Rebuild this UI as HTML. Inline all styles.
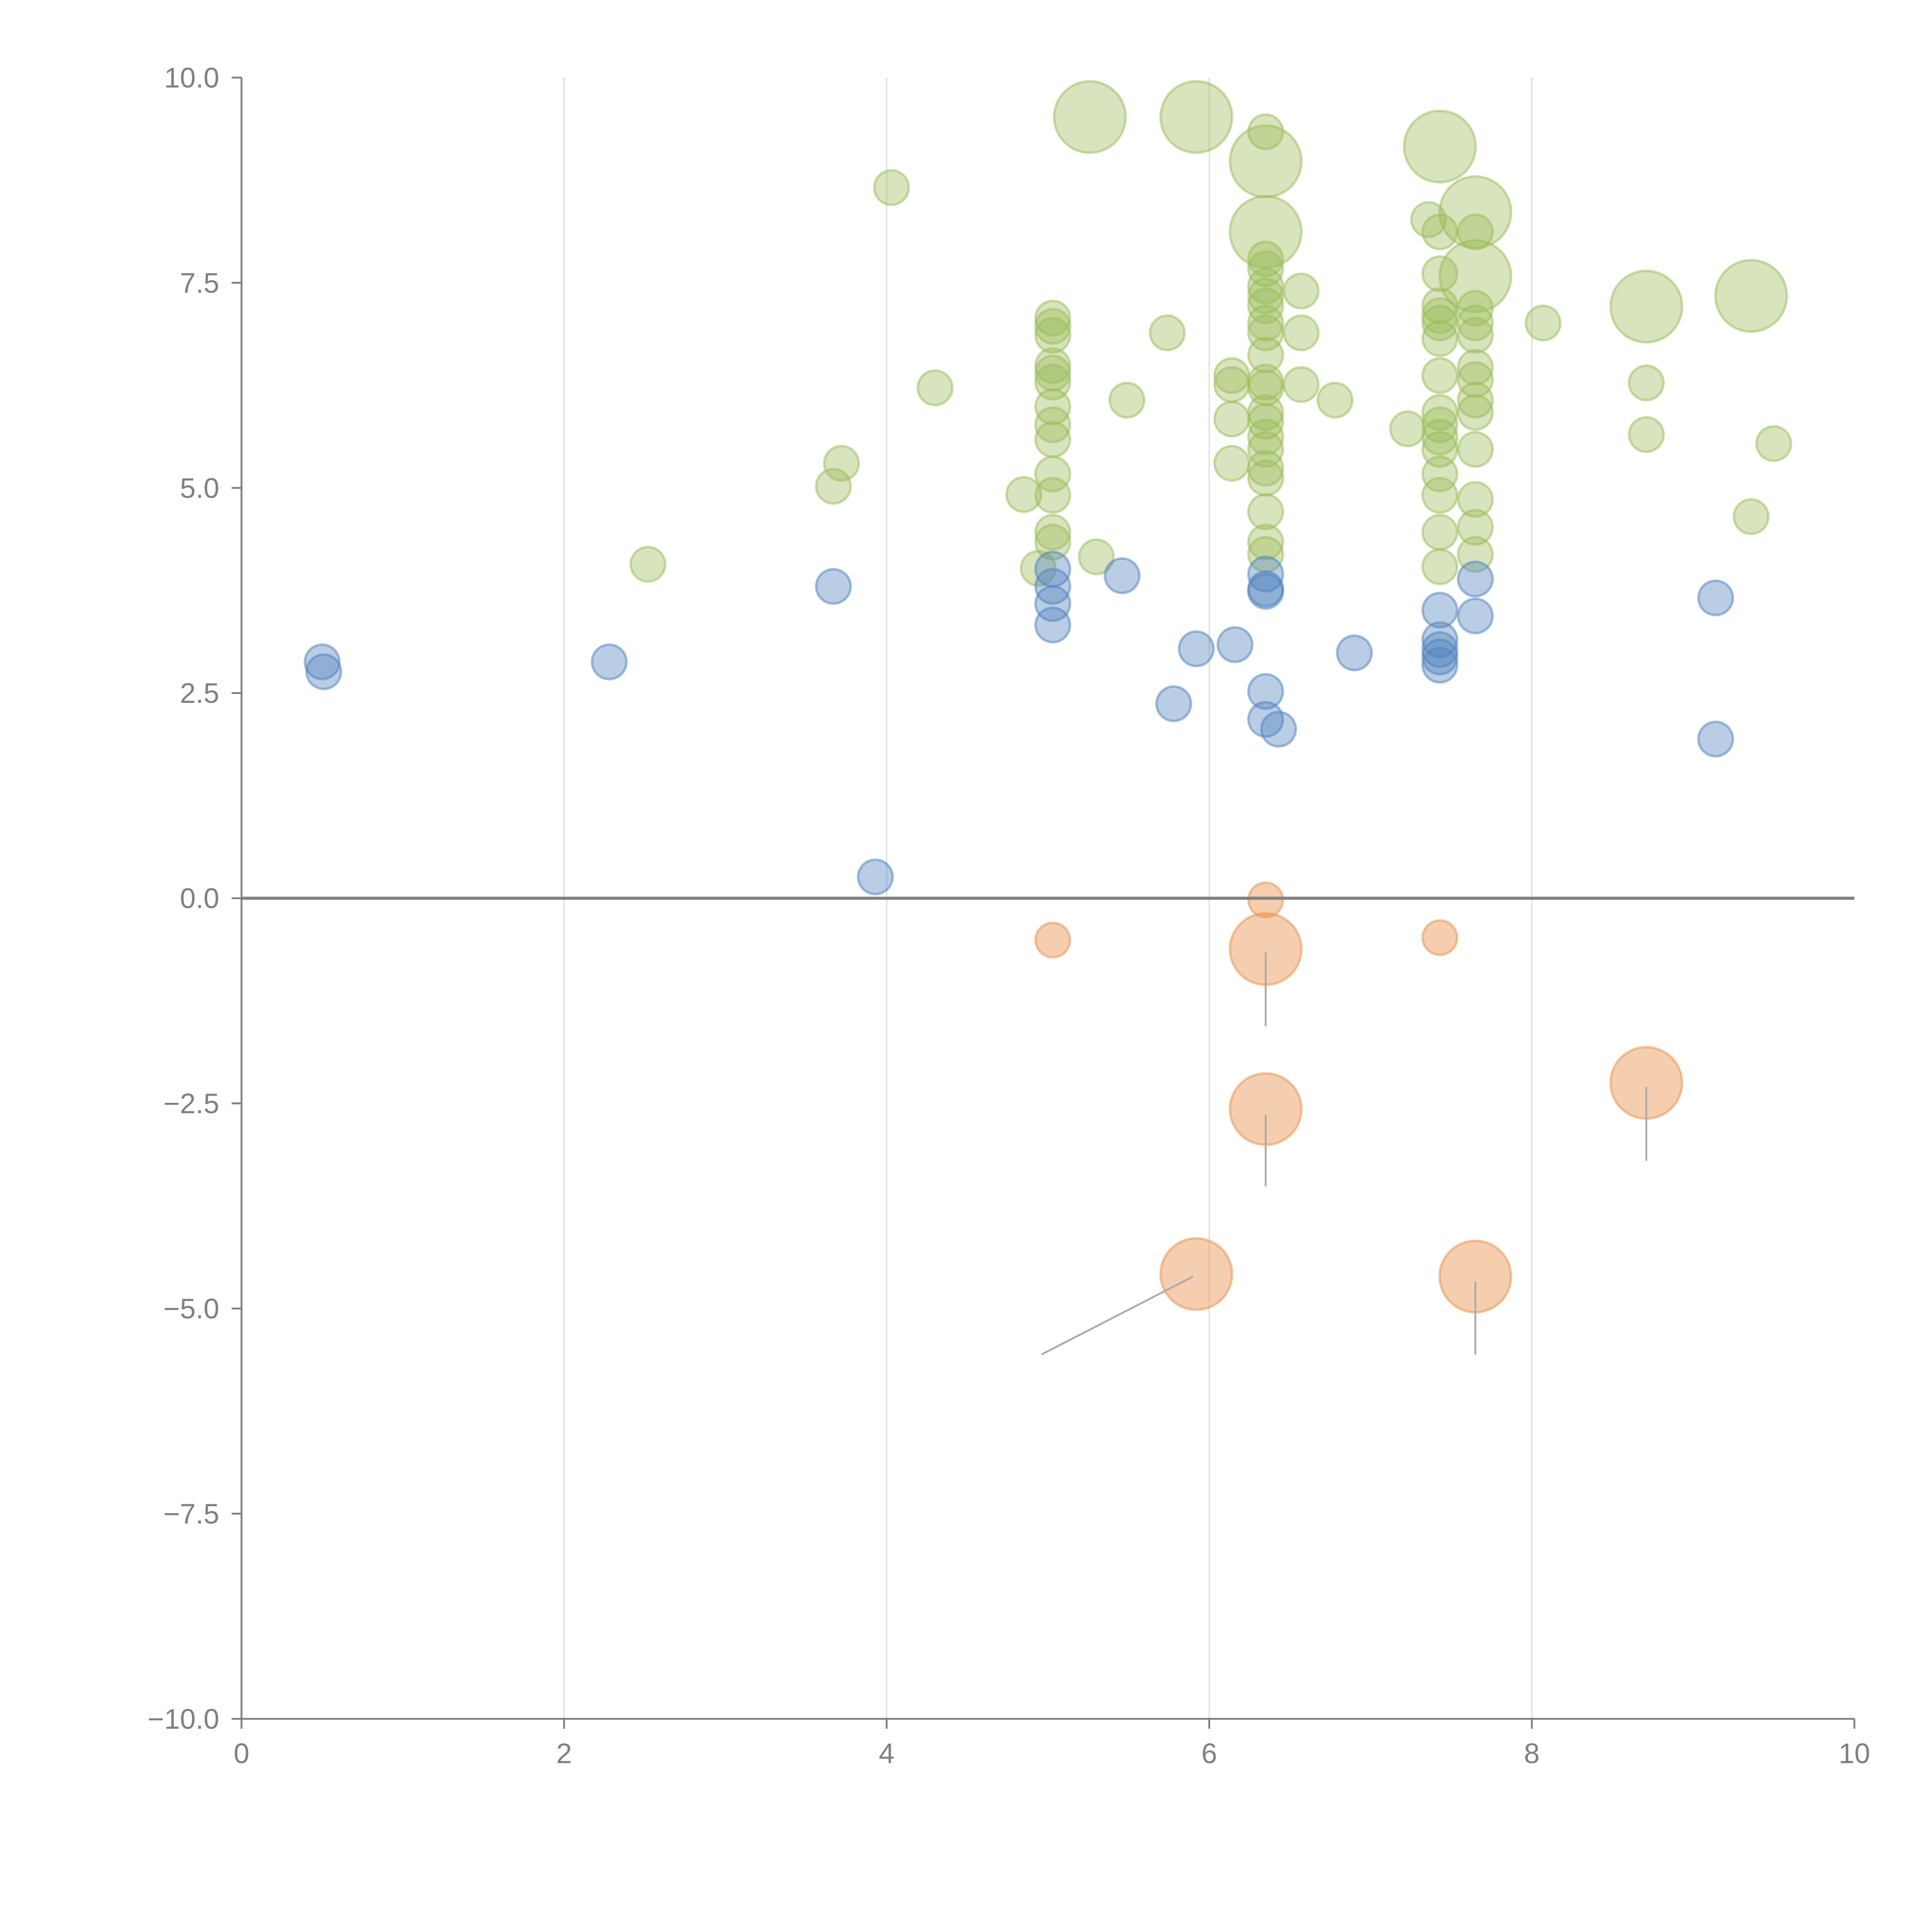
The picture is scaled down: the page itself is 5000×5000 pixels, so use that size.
<!DOCTYPE html>
<html><head><meta charset="utf-8"><style>html,body{margin:0;padding:0;background:#fff}svg{display:block}</style></head>
<body>
<svg id="chart" width="5000" height="5000" viewBox="0 0 1568 1568" xmlns="http://www.w3.org/2000/svg" font-family="Liberation Sans, sans-serif"></svg>
<script>
const xTicks=[0,2,4,6,8,10];
const xTickLabels=["0","2","4","6","8","10"];
const yTicks=[10,7.5,5,2.5,0,-2.5,-5,-7.5,-10];
const yTickLabels=["10.0","7.5","5.0","2.5","0.0","\u22122.5","\u22125.0","\u22127.5","\u221210.0"];
const blueX=[0.50,0.51,2.28,3.67,3.93,5.03,5.03,5.03,5.03,5.46,5.78,5.92,6.16,6.35,6.35,6.43,6.35,6.35,6.35,6.90,7.43,7.43,7.43,7.43,7.43,7.65,7.65,9.14,9.14];
const blueY=[2.88,2.76,2.88,3.80,0.26,4.01,3.80,3.59,3.33,3.93,2.37,3.04,3.09,2.52,2.18,2.06,3.74,3.95,3.77,2.99,3.51,3.15,3.03,2.94,2.84,3.89,3.44,3.66,1.94];
const orangeX=[5.03,6.35,7.43,6.35,6.35,5.92,7.65,8.71];
const orangeY=[-0.51,-0.02,-0.48,-0.62,-2.57,-4.58,-4.61,-2.25];
const orangeSize=[1,1,1,2,2,2,2,2];
const greenX=[5.26,5.92,6.35,6.35,7.43,7.65,7.65,8.71,9.36,
6.35,4.03,2.52,3.67,3.72,4.30,4.85,4.94,5.30,5.49,5.74,
5.03,5.03,5.03,5.03,5.03,5.03,5.03,5.03,5.03,5.03,5.03,5.03,5.03,
6.14,6.14,6.14,6.14,
6.35,6.35,6.35,6.35,6.35,6.35,6.35,6.35,6.35,6.35,6.35,6.35,6.35,6.35,6.35,6.35,6.35,6.35,6.35,
6.57,6.57,6.57,6.78,7.23,7.36,
7.43,7.43,7.43,7.43,7.43,7.43,7.43,7.43,7.43,7.43,7.43,7.43,7.43,7.43,7.43,
7.65,7.65,7.65,7.65,7.65,7.65,7.65,7.65,7.65,7.65,7.65,7.65,
8.07,8.71,8.71,9.36,9.50];
const greenY=[9.52,9.52,8.98,8.12,9.16,8.36,7.58,7.21,7.34,
9.34,8.66,4.07,5.02,5.30,6.22,4.92,4.02,4.16,6.07,6.89,
7.07,6.97,6.86,6.49,6.40,6.29,5.99,5.77,5.59,5.17,4.91,4.46,4.34,
6.37,6.26,5.84,5.30,
7.79,7.67,7.46,7.34,7.22,7.01,6.89,6.62,6.29,6.22,5.92,5.81,5.62,5.47,5.24,5.12,4.71,4.34,4.19,
7.40,6.89,6.26,6.07,5.72,8.27,
8.12,7.61,7.22,7.10,7.01,6.82,6.37,5.92,5.77,5.62,5.47,5.17,4.91,4.46,4.04,
8.12,7.19,7.01,6.86,6.47,6.32,6.07,5.92,5.47,4.86,4.52,4.19,
7.01,6.28,5.65,4.65,5.54];
const greenSize=[2,2,2,2,2,2,2,2,2];

const NS="http://www.w3.org/2000/svg";
const svg=document.getElementById('chart');
const X0=196,X1=1505,YT=63,YB=1395;
const sx=v=>X0+(v-0)/(10-0)*(X1-X0);
const sy=v=>YB-(v+10)/20*(YB-YT);
const rad=s=>s===2?29:14;
function mk(tag,attrs,parent){const e=document.createElementNS(NS,tag);for(const k in attrs)e.setAttribute(k,attrs[k]);(parent||svg).appendChild(e);return e;}

const grid=mk('g',{});


xTicks.forEach(t=>{if(t===0||t===10)return;const l=mk('line',{x1:sx(t),x2:sx(t),y1:YT,y2:YB,stroke:'#dcdcdc','stroke-width':1},grid);

});

function series(xs,ys,sizes,fill,op,name){
  const g=mk('g',{});
  
  
  xs.forEach((x,i)=>{const s=sizes[i]!==undefined?sizes[i]:1;
    const c=mk('circle',{cx:sx(x),cy:sy(ys[i]),r:rad(s),fill:fill,'fill-opacity':op,stroke:fill,'stroke-opacity':0.5,'stroke-width':2},g);
    
    });
}
series(greenX,greenY,greenSize,'#9bbb59',0.4,'green');
series(blueX,blueY,[],'#4f81bd',0.4,'blue');
series(orangeX,orangeY,orangeSize,'#e8924e',0.45,'orange');

const leaders=[[6.35,-0.66,6.35,-1.56],[6.35,-2.64,6.35,-3.51],[5.90,-4.61,4.96,-5.56],[7.65,-4.67,7.65,-5.56],[8.71,-2.30,8.71,-3.20]];
leaders.forEach(a=>{const l=mk('line',{x1:sx(a[0]),y1:sy(a[1]),x2:sx(a[2]),y2:sy(a[3]),stroke:'#aaaaaa','stroke-width':1.5});

});

const z=mk('line',{x1:X0,x2:X1,y1:sy(0),y2:sy(0),stroke:'#808080','stroke-width':2.5});



const ya=mk('line',{x1:X0,x2:X0,y1:YT,y2:YB,stroke:'#808080','stroke-width':1.5});


const xa=mk('line',{x1:X0,x2:X1,y1:YB,y2:YB,stroke:'#808080','stroke-width':1.5});


yTicks.forEach((t,i)=>{const y=sy(t);
  const tk=mk('line',{x1:X0-8,x2:X0,y1:y,y2:y,stroke:'#808080','stroke-width':1.5});
  
  
  const tx=mk('text',{x:X0-18,y:y+8,'text-anchor':'end','font-size':23,fill:'#808080'});
  tx.textContent=yTickLabels[i];
  
  });
xTicks.forEach((t,i)=>{const x=sx(t);
  const tk=mk('line',{x1:x,x2:x,y1:YB,y2:YB+8,stroke:'#808080','stroke-width':1.5});
  
  
  const tx=mk('text',{x:x,y:YB+36,'text-anchor':'middle','font-size':23,fill:'#808080'});
  tx.textContent=xTickLabels[i];
  
  });
</script>
</body></html>
